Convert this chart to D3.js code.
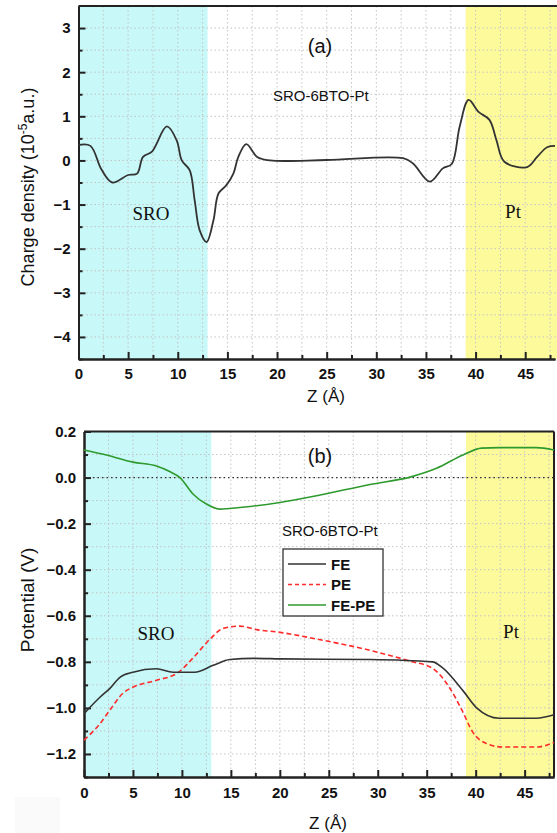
<!DOCTYPE html>
<html>
<head>
<meta charset="utf-8">
<script src="https://cdn.jsdelivr.net/npm/d3@7"></script>
<style>
body{margin:0;background:#fff;}
svg{display:block;}
.tick text{font-family:"Liberation Sans",Arial,sans-serif;font-weight:bold;font-size:15px;}
</style>
</head>
<body>
<svg id="chart" width="557" height="833"></svg>
<script>
// charge density (a)
var chargeZ = [0,1.2,2.3,3.4,5,5.9,6.5,7.4,8.9,9.9,10.4,11.2,11.7,12.2,12.9,13.6,14.1,14.9,15.6,16.1,16.9,18,19.3,25,32.7,33.7,35.4,36.7,37.6,38.4,39.3,40.3,41.4,42.1,42.9,45.2,46.2,47.2,48]
var chargeV = [0.35,0.33,-0.2,-0.5,-0.33,-0.3,0.08,0.2,0.77,0.45,0,-0.22,-0.9,-1.58,-1.85,-1.35,-0.75,-0.56,-0.3,0.08,0.37,0.08,0,0.01,0.05,-0.07,-0.48,-0.18,-0.08,0.77,1.37,1.1,0.92,0.46,-0.03,-0.15,0.08,0.3,0.33]

// potentials (b)
var feZ = [0,1.6,2.65,3.7,5,7.4,9.1,10,11.3,13.2,14.9,17.3,20,29.2,35.6,36.6,38.7,40.1,42.4,46.2,48]
var feV = [-1.025,-0.955,-0.915,-0.866,-0.845,-0.83,-0.845,-0.845,-0.845,-0.815,-0.79,-0.785,-0.787,-0.79,-0.80,-0.825,-0.925,-1.0,-1.045,-1.045,-1.03]
var peZ = [0,1.6,2.8,4,5,7.4,9.5,11.1,12.9,14.2,15.9,17.6,20,24,29.2,33.3,35.6,37.3,38.6,39.7,41.1,42.8,46.2,48]
var peV = [-1.14,-1.07,-1.0,-0.935,-0.91,-0.88,-0.85,-0.785,-0.7,-0.655,-0.645,-0.66,-0.672,-0.703,-0.75,-0.797,-0.828,-0.91,-1.01,-1.105,-1.155,-1.17,-1.17,-1.15]
var dZ = [0,2.3,5,7.4,8.8,9.8,11.1,12.5,13.9,15.9,20,24,29.2,33.3,36,38.7,40.6,42.4,46.2,48]
var dV = [0.12,0.098,0.067,0.05,0.025,0,-0.07,-0.115,-0.137,-0.13,-0.108,-0.077,-0.03,0.002,0.04,0.098,0.128,0.13,0.13,0.12]

var xTicks = [0,5,10,15,20,25,30,35,40,45]
var yTicksA = [-4,-3,-2,-1,0,1,2,3]
var yTicksB = [-1.2,-1.0,-0.8,-0.6,-0.4,-0.2,0.0,0.2]
var regionSRO = [0,13]
var regionPt = [39,48]
var legendNames = ["FE","PE","FE-PE"]

var svg = d3.select("#chart")
var sans = '"Liberation Sans",Arial,sans-serif'
var serif = '"Liberation Serif","Times New Roman",serif'

var toPts = function(z,v){ return z.map(function(d,i){ return [d, v[i]] }) }

// faint scan smudge in the corner of the original
svg.append("rect").attr("x",15).attr("y",797).attr("width",45).attr("height",36).attr("fill","#fafafa")

var drawPanel = function(p){
  var x = d3.scaleLinear().domain([0,48]).range([p.left,p.right])
  var y = d3.scaleLinear().domain(p.ydom).range([p.bottom,p.top])
  var g = svg.append("g")

  g.append("rect").attr("x",x(regionSRO[0])).attr("y",p.top)
    .attr("width",x(regionSRO[1])-x(regionSRO[0])).attr("height",p.bottom-p.top)
    .attr("fill","#c8f8f8")
  g.append("rect").attr("x",x(regionPt[0])).attr("y",p.top)
    .attr("width",p.clipRight-x(regionPt[0])).attr("height",p.bottom-p.top)
    .attr("fill","#fdfa9c")

  // dotted grid
  var gx = d3.range(2.5,48,2.5)
  g.selectAll(".gx").data(gx).enter().append("line")
    .attr("x1",function(d){return x(d)}).attr("x2",function(d){return x(d)})
    .attr("y1",p.top).attr("y2",p.bottom)
    .attr("stroke","#c4c4c4").attr("stroke-width",1).attr("stroke-dasharray","1.5,2.5")
  g.selectAll(".gy").data(p.gridY).enter().append("line")
    .attr("x1",p.left).attr("x2",p.clipRight)
    .attr("y1",function(d){return y(d)}).attr("y2",function(d){return y(d)})
    .attr("stroke","#c4c4c4").attr("stroke-width",1).attr("stroke-dasharray","1.5,2.5")

  // axes, ticks inside
  g.append("g").attr("transform","translate(0,"+p.bottom+")")
    .call(d3.axisBottom(x).tickValues(xTicks).tickSize(-7).tickPadding(p.xpad).tickSizeOuter(0))
  g.append("g").attr("transform","translate(0,"+p.bottom+")")
    .call(d3.axisBottom(x).tickValues(d3.range(2.5,48,5)).tickSize(-4).tickFormat("").tickSizeOuter(0))
  g.append("g").attr("transform","translate("+p.left+",0)")
    .call(d3.axisLeft(y).tickValues(p.yTicks).tickSize(-7).tickPadding(8).tickFormat(p.fmt).tickSizeOuter(0))
  g.append("g").attr("transform","translate("+p.left+",0)")
    .call(d3.axisLeft(y).tickValues(p.minorY).tickSize(-4).tickFormat("").tickSizeOuter(0))
  g.selectAll(".domain").attr("stroke","#222").attr("stroke-width",2)
  g.selectAll(".tick line").attr("stroke","#222").attr("stroke-width",2)
  g.selectAll(".tick text").attr("fill","#111")

  g.append("line").attr("x1",p.left).attr("x2",p.clipRight).attr("y1",p.top).attr("y2",p.top)
    .attr("stroke","#222").attr("stroke-width",2)
  if(p.rightLine){
    g.append("line").attr("x1",p.right).attr("x2",p.right).attr("y1",p.top).attr("y2",p.bottom)
      .attr("stroke","#222").attr("stroke-width",2)
  }
  return {x:x,y:y,g:g}
}

// panel (a)
var A = drawPanel({left:78.5,right:555,clipRight:557,top:6,bottom:359,ydom:[-4.5,3.5],xpad:9,
  yTicks:yTicksA,minorY:d3.range(-4.5,3.5,1),gridY:d3.range(-4,3.5,0.5),fmt:d3.format("d"),rightLine:false})

A.g.append("path").datum(toPts(chargeZ,chargeV))
  .attr("fill","none").attr("stroke","#333").attr("stroke-width",1.8)
  .attr("d",d3.line().x(function(d){return A.x(d[0])}).y(function(d){return A.y(d[1])}).curve(d3.curveCatmullRom.alpha(0.5)))

// panel (b)
var B = drawPanel({left:84,right:554,clipRight:554,top:431.5,bottom:777,ydom:[-1.3,0.2],xpad:10,
  yTicks:yTicksB,minorY:d3.range(-1.3,0.2,0.2).map(function(d){return +d.toFixed(1)}),
  gridY:d3.range(-1.2,0.15,0.1).map(function(d){return +d.toFixed(1)}),fmt:d3.format(".1f"),rightLine:true})

B.g.append("line").attr("x1",B.x(0)).attr("x2",B.x(48)).attr("y1",B.y(0)).attr("y2",B.y(0))
  .attr("stroke","#333").attr("stroke-width",1.3).attr("stroke-dasharray","1.5,3")

var lineB = d3.line().x(function(d){return B.x(d[0])}).y(function(d){return B.y(d[1])}).curve(d3.curveMonotoneX)
B.g.append("path").datum(toPts(peZ,peV)).attr("fill","none").attr("stroke","#ff2a2a")
  .attr("stroke-width",1.6).attr("stroke-dasharray","5,3").attr("d",lineB)
B.g.append("path").datum(toPts(feZ,feV)).attr("fill","none").attr("stroke","#333")
  .attr("stroke-width",1.6).attr("d",lineB)
B.g.append("path").datum(toPts(dZ,dV)).attr("fill","none").attr("stroke","#2e9a2e")
  .attr("stroke-width",1.6).attr("d",lineB)

// legend
var leg = svg.append("g")
leg.append("rect").attr("x",283).attr("y",549).attr("width",100).attr("height",67)
  .attr("fill","#fff").attr("stroke","#333").attr("stroke-width",1.3)
var legStyle = [{c:"#333",d:null},{c:"#ff2a2a",d:"4,3"},{c:"#2e9a2e",d:null}]
legendNames.forEach(function(n,i){
  var yy = 564+i*20.5
  leg.append("line").attr("x1",288).attr("x2",326).attr("y1",yy).attr("y2",yy)
    .attr("stroke",legStyle[i].c).attr("stroke-width",1.5).attr("stroke-dasharray",legStyle[i].d)
  leg.append("text").attr("x",331).attr("y",yy+5.5).text(n)
    .style("font-family",sans).style("font-size","15px").style("font-weight","bold").attr("fill","#111")
})

// labels
var txt = function(x,y,s,fam,size,anchor){
  return svg.append("text").attr("x",x).attr("y",y).text(s)
    .style("font-family",fam).style("font-size",size+"px").attr("fill","#111")
    .attr("text-anchor",anchor||"start")
}
txt(320,53,"(a)",sans,20,"middle")
txt(273,101,"SRO-6BTO-Pt",sans,15)
txt(151,220,"SRO",serif,19,"middle")
txt(513,218,"Pt",serif,19,"middle")
txt(320,463,"(b)",sans,20,"middle")
txt(282,536,"SRO-6BTO-Pt",sans,15)
txt(156,640,"SRO",serif,19,"middle")
txt(511,638,"Pt",serif,19,"middle")

txt(326,402,"Z (Å)",sans,17,"middle")
txt(328,829,"Z (Å)",sans,17,"middle")

var yl = svg.append("text").attr("transform","translate(34,187) rotate(-90)")
  .attr("text-anchor","middle").style("font-family",sans).style("font-size","18px").attr("fill","#111")
yl.append("tspan").text("Charge density (10")
yl.append("tspan").text("-5").attr("dy",-7).style("font-size","12px")
yl.append("tspan").text("a.u.)").attr("dy",7)

svg.append("text").attr("transform","translate(34,600) rotate(-90)")
  .attr("text-anchor","middle").style("font-family",sans).style("font-size","19px").attr("fill","#111")
  .text("Potential (V)")
</script>
</body>
</html>
